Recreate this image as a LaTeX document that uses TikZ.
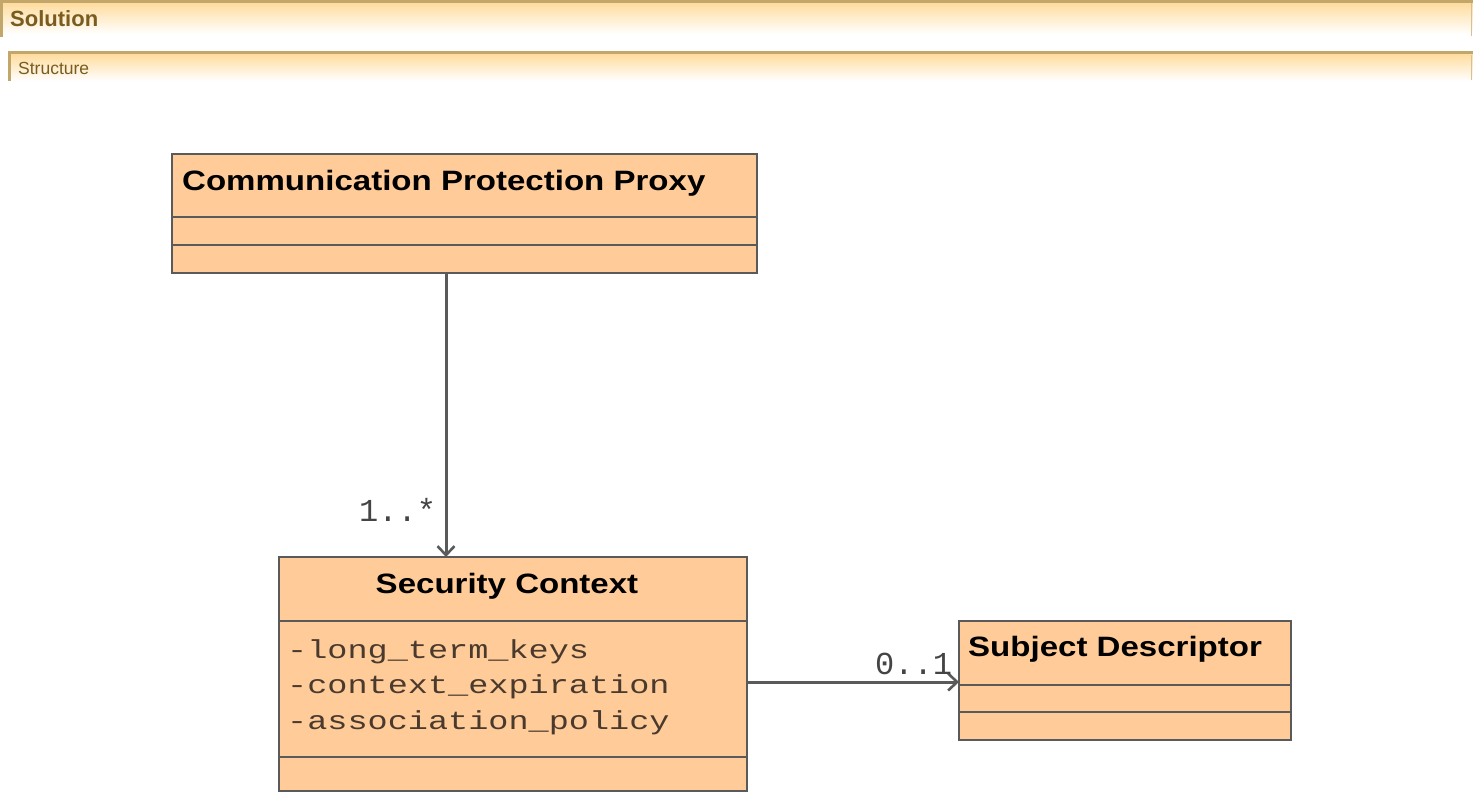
\documentclass[tikz,border=0pt]{standalone}
\usepackage{fontspec}
\setmainfont{Liberation Sans}
\newfontfamily\titlefont{Liberation Sans Bold}[FakeStretch=1.18]
\newfontfamily\attrfont{Liberation Mono}[FakeStretch=1.29]
\newfontfamily\multfont{Liberation Mono}
\usetikzlibrary{arrows.meta}
\definecolor{peach}{HTML}{FFCC99}
\definecolor{boxline}{HTML}{5A5A5A}
\definecolor{hdrline}{HTML}{C2A66A}
\definecolor{hdrfill}{HTML}{FFDC9E}
\definecolor{hdrtext}{HTML}{7A5C1E}
\definecolor{attrcol}{HTML}{4A3A2E}
\definecolor{multcol}{HTML}{444444}
\tikzset{
  umlbox/.style={draw=boxline, fill=peach, line width=2.9pt, anchor=north west, inner sep=0pt, outer sep=0pt},
  sepline/.style={draw=boxline, line width=2.9pt},
  titletext/.style={inner sep=0pt, font=\titlefont\fontsize{28}{34}\selectfont, text=black},
  attrtext/.style={inner sep=0pt, font=\attrfont\fontsize{26}{35.5}\selectfont, text=attrcol, anchor=base west, align=left},
  multtext/.style={inner sep=0pt, font=\multfont\fontsize{32}{36}\selectfont, text=multcol, anchor=base west},
  assoc/.style={draw=boxline, line width=3pt, -{Straight Barb[length=9pt,width=17pt,line width=2.6pt]}},
  hdrborder/.style={draw=hdrline, line width=2.5pt},
  hdrborderthin/.style={draw=hdrline!70, line width=1.5pt},
  hdrtitle/.style={inner sep=0pt, anchor=base west, text=hdrtext}
}
\begin{document}
\begin{tikzpicture}[x=1pt, y=-1pt]
\useasboundingbox (0,0) rectangle (1473,809);
% header bars
\shade[top color=hdrfill, bottom color=white] (2,3) rectangle (1473,34);
\draw[hdrborder] (0,1.5) -- (1473,1.5);
\draw[hdrborder] (1.5,0) -- (1.5,37);
\draw[hdrborderthin] (1471.5,3) -- (1471.5,36);
\node[hdrtitle, font=\bfseries\fontsize{22}{26}\selectfont] (soltitle) at (10,26) {Solution};
\shade[top color=hdrfill, bottom color=white] (10,54) rectangle (1473,81);
\draw[hdrborder] (8,52.5) -- (1473,52.5);
\draw[hdrborder] (9.5,52) -- (9.5,81);
\draw[hdrborderthin] (1471.5,55) -- (1471.5,80);
\node[hdrtitle, font=\fontsize{17.5}{21}\selectfont] (strtitle) at (18,74) {Structure};
% Communication Protection Proxy
\node[umlbox, minimum width=585pt, minimum height=119pt] (cpp) at (172,154) {};
\coordinate (cppa) at (0,217);
\coordinate (cppb) at (0,245);
\draw[sepline] (cpp.west |- cppa) -- (cpp.east |- cppa);
\draw[sepline] (cpp.west |- cppb) -- (cpp.east |- cppb);
\node[titletext, anchor=base west] (cppt) at (182,190) {Communication Protection Proxy};
% Security Context
\node[umlbox, minimum width=468pt, minimum height=234pt] (sc) at (279,557) {};
\coordinate (sca) at (0,621);
\coordinate (scb) at (0,757);
\draw[sepline] (sc.west |- sca) -- (sc.east |- sca);
\draw[sepline] (sc.west |- scb) -- (sc.east |- scb);
\node[titletext, anchor=base] (sct) at (507,593) {Security Context};
\node[attrtext] (sca1) at (287,658) {-long\_term\_keys};
\node[attrtext] (sca2) at (287,693.5) {-context\_expiration};
\node[attrtext] (sca3) at (287,729) {-association\_policy};
% Subject Descriptor
\node[umlbox, minimum width=332pt, minimum height=119pt] (sd) at (959,621) {};
\coordinate (sda) at (0,685);
\coordinate (sdb) at (0,712);
\draw[sepline] (sd.west |- sda) -- (sd.east |- sda);
\draw[sepline] (sd.west |- sdb) -- (sd.east |- sdb);
\node[titletext, anchor=base west] (sdt) at (968,656) {Subject Descriptor};
% associations
\coordinate (ax) at (446,0);
\draw[assoc] (cpp.south -| ax) -- (sc.north -| ax);
\node[multtext] (m1) at (359,521) {1..*};
\coordinate (ay) at (0,682);
\draw[assoc] (sc.east |- ay) -- (sd.west |- ay);
\node[multtext] (m2) at (875,674) {0..1};
\end{tikzpicture}
\end{document}
